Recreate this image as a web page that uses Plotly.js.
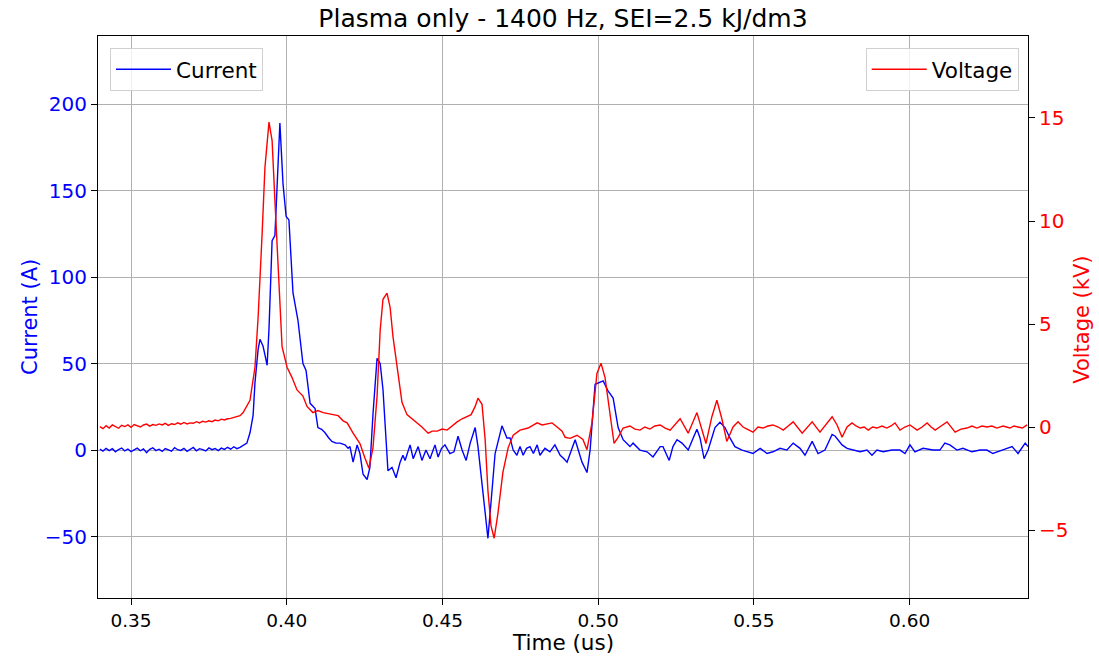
<!DOCTYPE html>
<html>
<head>
<meta charset="utf-8">
<script src="https://cdn.plot.ly/plotly-3.0.1.min.js"></script>
<style>html,body{margin:0;padding:0;background:#fff;}#chart{width:1099px;height:659px;}</style>
</head>
<body>
<div id="chart"></div>
<script>
// Current trace (time in us, current in A)
const timeCurrent = [
0.3400,0.3410,0.3420,0.3430,0.3440,0.3450,0.3460,0.3470,0.3480,0.3490,0.3500,0.3510,0.3520,0.3530,0.3540,0.3550,0.3560,0.3570,0.3580,0.3590,
0.3600,0.3610,0.3620,0.3630,0.3640,0.3650,0.3660,0.3670,0.3680,0.3690,0.3700,0.3710,0.3720,0.3730,0.3740,0.3750,0.3760,0.3770,0.3780,0.3790,
0.3800,0.3810,0.3820,0.3830,0.3840,0.3850,0.3860,0.3872,0.3882,0.3892,0.3898,0.3908,0.3914,0.3924,0.3930,0.3937,0.3943,0.3953,0.3962,0.3969,
0.3978,0.3988,0.3998,0.4007,0.4014,0.4020,0.4036,0.4052,0.4062,0.4075,0.4091,0.4100,0.4112,0.4123,0.4135,0.4145,0.4158,0.4171,0.4187,0.4197,
0.4203,0.4213,0.4226,0.4235,0.4245,0.4258,0.4267,0.4277,0.4290,0.4300,0.4309,0.4319,0.4325,0.4338,0.4351,0.4364,0.4373,0.4380,0.4396,0.4406,
0.4422,0.4434,0.4447,0.4460,0.4476,0.4486,0.4497,0.4508,0.4524,0.4537,0.4550,0.4563,0.4576,0.4589,0.4605,0.4614,0.4630,0.4646,0.4656,0.4669,
0.4691,0.4707,0.4717,0.4727,0.4739,0.4749,0.4759,0.4770,0.4781,0.4792,0.4804,0.4813,0.4829,0.4845,0.4861,0.4878,0.4890,0.4900,0.4926,0.4948,
0.4964,0.4974,0.4990,0.5006,0.5016,0.5032,0.5048,0.5064,0.5080,0.5102,0.5112,0.5134,0.5157,0.5176,0.5199,0.5208,0.5228,0.5240,0.5253,0.5269,
0.5289,0.5305,0.5317,0.5327,0.5340,0.5353,0.5375,0.5391,0.5407,0.5423,0.5439,0.5462,0.5481,0.5497,0.5520,0.5542,0.5561,0.5584,0.5606,0.5626,
0.5648,0.5664,0.5687,0.5706,0.5728,0.5751,0.5761,0.5783,0.5799,0.5818,0.5841,0.5863,0.5879,0.5895,0.5915,0.5943,0.5969,0.5985,0.6001,0.6017,
0.6043,0.6075,0.6097,0.6113,0.6129,0.6152,0.6171,0.6200,0.6226,0.6248,0.6267,0.6297,0.6329,0.6348,0.6371,0.6380
];
const current = [
0.5,-0.6,1.0,-0.3,0.8,-1.0,0.3,1.2,-0.5,0.6,-0.9,0.2,1.1,-0.4,0.7,-1.5,0.4,1.3,-0.3,0.5,
-0.8,0.9,0.1,-0.6,1.4,0.2,-0.2,1.0,-0.7,0.6,1.5,-0.4,0.8,0.3,-0.5,1.2,0.2,0.9,-0.3,1.1,
0.4,1.6,0.5,1.9,0.8,1.5,2.5,4,10,20,39,58,64,60,55,49,70,121,124,150,
189,154,135,133,110,91,75,50,46,27,24,13,12,10,7,5,4,4,3,1,
2,-7,3,-2,-14,-17,-10,21,53,50,35,4,-12,-10,-16,-7,-3,-6,3,-5,
2,-6,0,-5,3,-4,1,3,-2,-1,8,0,-6,4,13,2,-25,-51,-30,-2,
14,7,7,0,-3,2,-3,1,2,-2,3,-3,1,-1,3,-3,-5,-7,6,-7,
-13,0,38,39,40,34,30,13,6,2,4,0,-1,-4,2,2,-6,2,6,4,
0,7,12,7,-5,0,13,16,13,7,2,0,-1,-2,1,-2,-1,1,0,4,
1,-3,5,-2,0,9,8,3,1,0,-1,0,-3,0,-1,0,0,-2,3,-1,
1,0,0,4,3,0,1,-1,0,0,-2,0,2,-2,4,2
];

// Voltage trace (time in us, voltage in kV)
const timeVoltage = [
0.3400,0.3410,0.3420,0.3430,0.3440,0.3450,0.3460,0.3470,0.3480,0.3490,0.3500,0.3510,0.3520,0.3530,0.3540,0.3550,0.3560,0.3570,0.3580,0.3590,
0.3600,0.3610,0.3620,0.3630,0.3640,0.3650,0.3660,0.3670,0.3680,0.3690,0.3700,0.3710,0.3720,0.3730,0.3740,0.3750,0.3760,0.3770,0.3780,0.3790,
0.3800,0.3810,0.3820,0.3830,0.3840,0.3850,0.3860,0.3870,0.3882,0.3898,0.3908,0.3921,0.3930,0.3943,0.3953,0.3962,0.3972,0.3985,0.4001,0.4017,
0.4033,0.4052,0.4065,0.4084,0.4100,0.4117,0.4133,0.4149,0.4165,0.4181,0.4194,0.4213,0.4235,0.4251,0.4264,0.4277,0.4290,0.4300,0.4309,0.4322,
0.4332,0.4341,0.4354,0.4370,0.4386,0.4402,0.4418,0.4434,0.4454,0.4467,0.4483,0.4499,0.4515,0.4531,0.4547,0.4563,0.4579,0.4592,0.4605,0.4614,
0.4627,0.4637,0.4646,0.4656,0.4666,0.4678,0.4694,0.4711,0.4727,0.4749,0.4775,0.4790,0.4804,0.4820,0.4836,0.4852,0.4868,0.4884,0.4894,0.4910,
0.4932,0.4951,0.4964,0.4980,0.4996,0.5009,0.5022,0.5038,0.5051,0.5064,0.5080,0.5102,0.5118,0.5134,0.5150,0.5166,0.5182,0.5199,0.5215,0.5231,
0.5263,0.5289,0.5317,0.5346,0.5365,0.5381,0.5397,0.5413,0.5433,0.5449,0.5465,0.5478,0.5497,0.5513,0.5529,0.5545,0.5561,0.5578,0.5594,0.5610,
0.5626,0.5655,0.5687,0.5712,0.5751,0.5767,0.5783,0.5799,0.5815,0.5828,0.5841,0.5854,0.5867,0.5881,0.5895,0.5911,0.5927,0.5940,0.5953,0.5969,
0.5985,0.6001,0.6024,0.6040,0.6056,0.6069,0.6082,0.6101,0.6120,0.6146,0.6165,0.6184,0.6200,0.6216,0.6232,0.6248,0.6264,0.6280,0.6300,0.6322,
0.6335,0.6348,0.6362,0.6377
];
const voltage = [
0.02,-0.08,0.06,-0.05,0.1,0.0,-0.06,0.08,0.02,0.1,-0.02,0.12,0.05,0.0,0.1,0.14,0.04,0.12,0.08,0.15,
0.1,0.18,0.08,0.16,0.12,0.2,0.14,0.22,0.15,0.2,0.18,0.26,0.2,0.28,0.24,0.3,0.26,0.34,0.3,0.38,
0.34,0.4,0.42,0.46,0.5,0.55,0.7,0.95,1.3,2.9,5.3,9.4,12.6,14.8,13.9,11.0,7.8,3.9,2.9,2.4,
1.8,1.5,1.0,0.7,0.8,0.7,0.65,0.6,0.55,0.3,0.2,-0.3,-0.8,-1.5,-2.0,-1.0,1.5,4.7,6.2,6.5,
5.8,4.4,2.9,1.2,0.6,0.4,0.2,0.0,-0.3,-0.2,-0.2,-0.1,-0.15,0.05,0.25,0.4,0.5,0.6,1.0,1.4,
1.1,-0.6,-3.1,-4.8,-5.4,-4.2,-2.2,-1.0,-0.4,-0.15,-0.05,0.1,0.2,0.1,0.15,0.2,0.0,-0.2,-0.5,-0.55,
-0.4,-0.6,-1.1,0.2,2.6,3.1,2.4,0.7,-0.8,-0.5,-0.05,0.05,-0.1,-0.15,0.0,-0.1,0.05,0.1,-0.05,-0.15,
0.4,-0.3,0.7,-0.8,0.5,1.3,0.4,-0.7,0.0,0.25,0.0,-0.1,-0.25,0.0,-0.05,0.05,0.1,0.0,-0.15,0.05,
0.25,-0.3,0.25,-0.25,0.5,0.1,-0.5,0.0,0.2,0.05,-0.05,0.0,-0.15,0.0,-0.05,0.05,-0.05,0.05,0.2,-0.15,
0.0,0.1,-0.15,0.0,0.2,0.0,-0.15,0.05,0.25,-0.25,-0.1,-0.05,0.05,-0.05,0.05,0.0,0.05,-0.05,0.05,-0.05,
0.05,0.0,-0.05,0.1
];

const xTicks = [0.35,0.40,0.45,0.50,0.55,0.60];
const currentTicks = [-50,0,50,100,150,200];
const voltageTicks = [-5,0,5,10,15];

const FONT = 'DejaVu Sans, Liberation Sans, sans-serif';

const traces = [
  {x: timeCurrent, y: current, type: 'scatter', mode: 'lines', name: 'Current',
   line: {color: '#0000ff', width: 1.4}, yaxis: 'y', legend: 'legend'},
  {x: timeVoltage, y: voltage, type: 'scatter', mode: 'lines', name: 'Voltage',
   line: {color: '#ff0000', width: 1.4}, yaxis: 'y2', legend: 'legend2'}
];

const layout = {
  width: 1099, height: 659,
  margin: {l: 98, r: 71, t: 36, b: 61},
  paper_bgcolor: '#ffffff', plot_bgcolor: '#ffffff',
  font: {family: FONT, size: 18, color: '#000'},
  title: {text: 'Plasma only - 1400 Hz, SEI=2.5 kJ/dm3', font: {family: FONT, size: 25, color: '#000'},
          x: 0.5, xref: 'paper', xanchor: 'center', y: 0.972, yref: 'container', yanchor: 'middle'},
  xaxis: {range: [0.3394, 0.638], tickvals: xTicks, ticktext: xTicks.map(v => v.toFixed(2)),
          showgrid: true, gridcolor: '#b0b0b0', gridwidth: 1, zeroline: false,
          showline: true, linecolor: '#000', linewidth: 1, mirror: true,
          ticks: 'outside', ticklen: 6, tickcolor: '#000',
          tickfont: {family: FONT, size: 18.5, color: '#000'}},
  yaxis: {range: [-85.5, 239.3], tickvals: currentTicks,
          showgrid: true, gridcolor: '#b0b0b0', gridwidth: 1, zeroline: false,
          showline: true, linecolor: '#000', linewidth: 1, mirror: true,
          ticks: 'outside', ticklen: 6, tickcolor: '#000',
          tickfont: {family: FONT, size: 20, color: '#0000ff'}},
  yaxis2: {range: [-8.3, 18.98], tickvals: voltageTicks, overlaying: 'y', side: 'right',
          showgrid: false, zeroline: false, showline: true, linecolor: '#000', linewidth: 1,
          ticks: 'outside', ticklen: 6, tickcolor: '#000',
          tickfont: {family: FONT, size: 20, color: '#ff0000'}},
  annotations: [
    {text: 'Time (us)', xref: 'paper', yref: 'paper', x: 0.5, y: -0.0783, xanchor: 'center', yanchor: 'middle',
     showarrow: false, font: {family: FONT, size: 21.5, color: '#000'}},
    {text: 'Current (A)', xref: 'paper', yref: 'paper', x: -0.0731, y: 0.5, xanchor: 'center', yanchor: 'middle',
     textangle: -90, showarrow: false, font: {family: FONT, size: 21, color: '#0000ff'}},
    {text: 'Voltage (kV)', xref: 'paper', yref: 'paper', x: 1.0581, y: 0.495, xanchor: 'center', yanchor: 'middle',
     textangle: -90, showarrow: false, font: {family: FONT, size: 21, color: '#ff0000'}}
  ],
  legend: {x: 0.0129, y: 0.979, xanchor: 'left', yanchor: 'top', bgcolor: 'rgba(255,255,255,0.8)',
           bordercolor: '#d0d0d0', borderwidth: 1, itemwidth: 55,
           font: {family: FONT, size: 21.5, color: '#000'}},
  legend2: {x: 0.990, y: 0.979, xanchor: 'right', yanchor: 'top', bgcolor: 'rgba(255,255,255,0.8)',
           bordercolor: '#d0d0d0', borderwidth: 1, itemwidth: 55,
           font: {family: FONT, size: 21.5, color: '#000'}},
  showlegend: true
};

Plotly.newPlot('chart', traces, layout, {displayModeBar: false, staticPlot: true});
</script>
</body>
</html>
